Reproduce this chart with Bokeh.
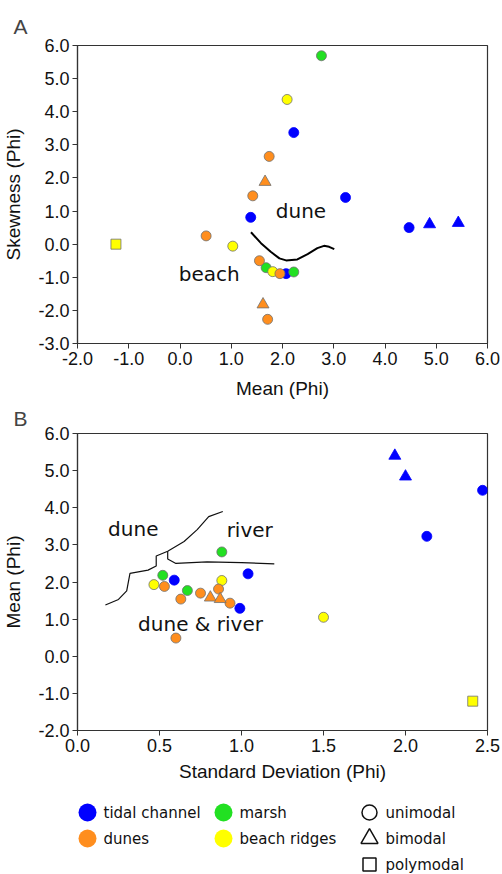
from bokeh.plotting import figure
from bokeh.models import Range1d, FixedTicker, NumeralTickFormatter
from bokeh.core.properties import value
from bokeh.embed import file_html
from bokeh.resources import INLINE

# ---------------- data ----------------
# Panel A: mean (phi) vs skewness (phi)
A_tidal_mean = [2.22, 3.23, 1.38, 2.07, 4.47]
A_tidal_skew = [3.37, 1.41, 0.81, -0.89, 0.50]
A_tidal_bi_mean = [4.87, 5.43]
A_tidal_bi_skew = [0.60, 0.64]
A_marsh_mean = [2.76, 1.68, 2.22]
A_marsh_skew = [5.69, -0.71, -0.84]
A_beach_mean = [2.09, 1.03, 1.81]
A_beach_skew = [4.37, -0.06, -0.83]
A_beach_poly_mean = [-1.25]
A_beach_poly_skew = [0.0]
A_dunes_mean = [1.74, 1.42, 0.51, 1.55, 1.95, 1.71]
A_dunes_skew = [2.65, 1.46, 0.25, -0.50, -0.89, -2.27]
A_dunes_bi_mean = [1.66, 1.62]
A_dunes_bi_skew = [1.88, -1.82]
A_curve_x = [1.385, 1.58, 1.77, 1.94, 2.07, 2.29, 2.49, 2.68, 2.81, 2.91, 3.01]
A_curve_y = [0.36, 0.03, -0.23, -0.43, -0.49, -0.46, -0.30, -0.12, -0.05, -0.08, -0.15]
A_labels = ["dune", "beach"]
A_label_x = [2.36, 0.57]
A_label_y = [1.0, -0.91]
A_xticks = [-2, -1, 0, 1, 2, 3, 4, 5, 6]
A_yticks = [-3, -2, -1, 0, 1, 2, 3, 4, 5, 6]

# Panel B: standard deviation (phi) vs mean (phi)
B_tidal_sd = [2.47, 2.13, 1.04, 0.59, 0.99]
B_tidal_mean = [4.47, 3.23, 2.22, 2.05, 1.29]
B_tidal_bi_sd = [1.935, 2.0]
B_tidal_bi_mean = [5.40, 4.84]
B_marsh_sd = [0.88, 0.52, 0.67]
B_marsh_mean = [2.81, 2.18, 1.77]
B_beach_sd = [0.88, 0.466, 1.50]
B_beach_mean = [2.04, 1.93, 1.05]
B_beach_poly_sd = [2.41]
B_beach_poly_mean = [-1.21]
B_dunes_sd = [0.53, 0.75, 0.86, 0.63, 0.93, 0.60]
B_dunes_mean = [1.88, 1.70, 1.81, 1.54, 1.43, 0.49]
B_dunes_bi_sd = [0.81, 0.87]
B_dunes_bi_mean = [1.58, 1.54]
B_line1_x = [0.17, 0.25, 0.30, 0.32, 0.43, 0.48, 0.48, 0.55, 0.65, 0.73, 0.80, 0.886]
B_line1_y = [1.38, 1.53, 1.76, 2.23, 2.32, 2.43, 2.70, 2.83, 3.09, 3.41, 3.76, 3.90]
B_line2_x = [0.55, 0.55, 0.60, 0.79, 1.00, 1.20]
B_line2_y = [2.83, 2.62, 2.50, 2.54, 2.52, 2.49]
B_labels = ["dune", "river", "dune & river"]
B_label_x = [0.34, 1.05, 0.75]
B_label_y = [3.43, 3.39, 0.87]
B_xticks = [0.0, 0.5, 1.0, 1.5, 2.0, 2.5]
B_yticks = [-2, -1, 0, 1, 2, 3, 4, 5, 6]

# Legend
env_names = ["tidal channel", "dunes", "marsh", "beach ridges"]
env_colors = ["#0000FF", "#FF8E1E", "#22E022", "#FFFF00"]
mode_names = ["unimodal", "bimodal", "polymodal"]
mode_markers = ["circle", "triangle", "square"]

BLUE, ORANGE, GREEN, YELLOW = env_colors
EDGE = "#707070"
AXIS_FONT = "Liberation Sans"
NOTE_FONT = "DejaVu Sans"


def style(p, xticks, yticks, xlabel, ylabel, letter, x_standoff, title_standoff):
    p.outline_line_color = "#333333"
    p.outline_line_width = 1.2
    p.xgrid.visible = False
    p.ygrid.visible = False
    p.xaxis.ticker = FixedTicker(ticks=xticks)
    p.yaxis.ticker = FixedTicker(ticks=yticks)
    for ax in (p.xaxis[0], p.yaxis[0]):
        ax.formatter = NumeralTickFormatter(format="0.0")
        ax.axis_line_color = "#333333"
        ax.axis_line_width = 1.2
        ax.major_tick_line_color = "#333333"
        ax.major_tick_in = 0
        ax.major_tick_out = 5
        ax.minor_tick_line_color = None
        ax.major_label_text_font = AXIS_FONT
        ax.major_label_text_font_size = "18px"
        ax.major_label_text_color = "#111111"
        ax.major_label_standoff = 3
        ax.axis_label_text_font = AXIS_FONT
        ax.axis_label_text_font_size = "19px"
        ax.axis_label_text_font_style = "normal"
        ax.axis_label_text_color = "#111111"
    p.xaxis.axis_label = xlabel
    p.yaxis.axis_label = ylabel
    p.xaxis.axis_label_standoff = x_standoff
    p.yaxis.axis_label_standoff = 11
    p.title.text = letter
    p.title.text_font = AXIS_FONT
    p.title.text_font_size = "21px"
    p.title.text_font_style = "normal"
    p.title.align = "left"
    p.title.offset = -64
    p.title.standoff = title_standoff


def pts(p, x, y, marker, color, size, edge=EDGE):
    p.scatter(x, y, marker=marker, size=size, fill_color=color,
              line_color=edge, line_width=0.8)


# ---------------- Panel A ----------------
pA = figure(width=502, height=401, output_backend="svg", toolbar_location=None,
            x_range=Range1d(-2, 6), y_range=Range1d(-3, 6),
            min_border_left=76, min_border_right=15, min_border_top=45,
            min_border_bottom=57)
style(pA, A_xticks, A_yticks, "Mean (Phi)", "Skewness (Phi)", "A", 10, 16)
pA.line(A_curve_x, A_curve_y, line_color="black", line_width=2)
pA.text(A_label_x, A_label_y, text=A_labels, text_font=value(NOTE_FONT),
        text_font_size="20px", text_align="center", text_baseline="middle",
        text_color="#111111")
pts(pA, A_tidal_mean, A_tidal_skew, "circle", BLUE, 10, BLUE)
pts(pA, A_tidal_bi_mean, A_tidal_bi_skew, "triangle", BLUE, 12, BLUE)
pts(pA, A_marsh_mean, A_marsh_skew, "circle", GREEN, 10)
pts(pA, A_beach_mean, A_beach_skew, "circle", YELLOW, 10)
pts(pA, A_beach_poly_mean, A_beach_poly_skew, "square", YELLOW, 10)
pts(pA, A_dunes_mean, A_dunes_skew, "circle", ORANGE, 10)
pts(pA, A_dunes_bi_mean, A_dunes_bi_skew, "triangle", ORANGE, 12)

# ---------------- Panel B ----------------
pB = figure(width=502, height=383, output_backend="svg", toolbar_location=None,
            x_range=Range1d(0, 2.5), y_range=Range1d(-2, 6),
            min_border_left=76, min_border_right=15, min_border_top=32,
            min_border_bottom=51)
style(pB, B_xticks, B_yticks, "Standard Deviation (Phi)", "Mean (Phi)", "B", 6, 7)
pB.line(B_line1_x, B_line1_y, line_color="#111111", line_width=1.2)
pB.line(B_line2_x, B_line2_y, line_color="#111111", line_width=1.2)
pB.text(B_label_x, B_label_y, text=B_labels, text_font=value(NOTE_FONT),
        text_font_size="20px", text_align="center", text_baseline="middle",
        text_color="#111111")
pts(pB, B_tidal_sd, B_tidal_mean, "circle", BLUE, 10, BLUE)
pts(pB, B_tidal_bi_sd, B_tidal_bi_mean, "triangle", BLUE, 12, BLUE)
pts(pB, B_marsh_sd, B_marsh_mean, "circle", GREEN, 10)
pts(pB, B_beach_sd, B_beach_mean, "circle", YELLOW, 10)
pts(pB, B_beach_poly_sd, B_beach_poly_mean, "square", YELLOW, 10)
pts(pB, B_dunes_sd, B_dunes_mean, "circle", ORANGE, 10)
pts(pB, B_dunes_bi_sd, B_dunes_bi_mean, "triangle", ORANGE, 12)

# ---------------- Legend ----------------
LH = 90
pL = figure(width=502, height=LH, output_backend="svg", toolbar_location=None,
            x_range=Range1d(0, 502), y_range=Range1d(LH, 0),
            min_border=0, outline_line_color=None)
pL.axis.visible = False
pL.grid.visible = False
env_x = [87, 87, 223, 223]
env_y = [28, 54, 28, 54]
pL.scatter(env_x, env_y, marker="circle", size=18, fill_color=env_colors,
           line_color=None)
pL.text([x + 16 for x in env_x], env_y, text=env_names,
        text_font=value(NOTE_FONT), text_font_size="15px",
        text_baseline="middle", text_color="#111111")
mode_x = [369, 369, 369]
mode_y = [28, 54, 80]
pL.scatter(mode_x, mode_y, marker=mode_markers, size=[15, 17, 13],
           fill_color=None, line_color="#111111", line_width=1.5)
pL.text([x + 16 for x in mode_x], mode_y, text=mode_names,
        text_font=value(NOTE_FONT), text_font_size="15px",
        text_baseline="middle", text_color="#111111")

open("out.html", "w").write(file_html([pA, pB, pL], INLINE))
